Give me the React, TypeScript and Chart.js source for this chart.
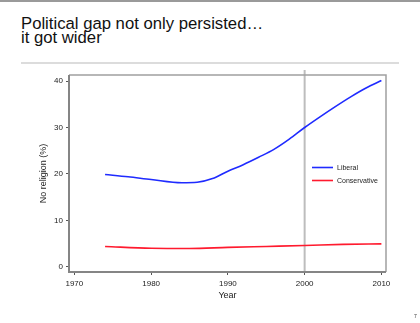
import React, { useEffect, useRef } from "react";
import { Chart, registerables } from "chart.js";

Chart.register(...registerables);

const liberalYears = [1974, 1977, 1980, 1984, 1986, 1988, 1990, 1992, 1994, 1996, 1998, 2000, 2002, 2004, 2006, 2008, 2010];
const liberalValues = [19.9, 19.4, 18.8, 18.1, 18.2, 19.0, 20.6, 22.0, 23.6, 25.3, 27.5, 30.0, 32.3, 34.5, 36.6, 38.5, 40.1];
const conservativeYears = [1974, 1980, 1985, 1990, 1995, 2000, 2005, 2010];
const conservativeValues = [4.4, 4.0, 3.95, 4.2, 4.4, 4.6, 4.85, 4.95];
const xTicks = [1970, 1980, 1990, 2000, 2010];
const yTicks = [0, 10, 20, 30, 40];
const markerYear = 2000;
const seriesLabels = ["Liberal", "Conservative"];
const seriesColors = ["#1f2bff", "#ff1a2e"];

const FONT = "'Liberation Sans', Arial, Helvetica, sans-serif";

const overlayPlugin = {
  id: "overlay",
  beforeDatasetsDraw(chart: any) {
    const { ctx, chartArea, scales } = chart;
    const x = scales.x.getPixelForValue(markerYear);
    ctx.save();
    ctx.strokeStyle = "#bdbdbd";
    ctx.lineWidth = 2;
    ctx.beginPath();
    ctx.moveTo(x, chartArea.top - 5);
    ctx.lineTo(x, chartArea.bottom);
    ctx.stroke();
    ctx.restore();
  },
  afterDatasetsDraw(chart: any) {
    const { ctx, chartArea } = chart;
    ctx.save();
    ctx.strokeStyle = "#a0a0a0";
    ctx.lineWidth = 1.5;
    ctx.beginPath();
    ctx.moveTo(chartArea.left, chartArea.top);
    ctx.lineTo(chartArea.right, chartArea.top);
    ctx.lineTo(chartArea.right, chartArea.bottom);
    ctx.stroke();
    ctx.strokeStyle = "#858585";
    ctx.lineWidth = 2;
    ctx.beginPath();
    ctx.moveTo(chartArea.left, chartArea.top);
    ctx.lineTo(chartArea.left, chartArea.bottom);
    ctx.lineTo(chartArea.right, chartArea.bottom);
    ctx.stroke();
    const lx = 312;
    const ys = [167.5, 180.5];
    chart.data.datasets.forEach((ds: any, i: number) => {
      ctx.strokeStyle = ds.borderColor;
      ctx.lineWidth = 1.6;
      ctx.beginPath();
      ctx.moveTo(lx, ys[i]);
      ctx.lineTo(lx + 21, ys[i]);
      ctx.stroke();
      ctx.fillStyle = "#222";
      ctx.font = `7px ${FONT}`;
      ctx.textBaseline = "middle";
      ctx.textAlign = "left";
      ctx.fillText(ds.label, lx + 25, ys[i] + 0.5);
    });
    ctx.restore();
  },
};

export default function App() {
  const ref = useRef<HTMLCanvasElement>(null);
  useEffect(() => {
    document.body.style.margin = "0";
    const chart = new Chart(ref.current!, {
      type: "line",
      data: {
        datasets: [
          {
            label: seriesLabels[0],
            data: liberalYears.map((y, i) => ({ x: y, y: liberalValues[i] })),
            borderColor: seriesColors[0],
            borderWidth: 1.6,
            pointRadius: 0,
            cubicInterpolationMode: "monotone",
          },
          {
            label: seriesLabels[1],
            data: conservativeYears.map((y, i) => ({ x: y, y: conservativeValues[i] })),
            borderColor: seriesColors[1],
            borderWidth: 1.6,
            pointRadius: 0,
            cubicInterpolationMode: "monotone",
          },
        ],
      },
      options: {
        responsive: false,
        animation: false,
        layout: { padding: { left: 36, top: 75, right: 34, bottom: 22 } },
        plugins: { legend: { display: false }, tooltip: { enabled: false } },
        scales: {
          x: {
            type: "linear",
            min: 1969.3,
            max: 2010.6,
            afterBuildTicks: (s: any) => {
              s.ticks = xTicks.map((v) => ({ value: v }));
            },
            afterFit: (s: any) => {
              s.height = 29;
            },
            grid: { display: true, drawOnChartArea: false, drawTicks: true, tickLength: 3, color: "#555" },
            border: { display: false },
            ticks: {
              color: "#222",
              font: { size: 8, family: FONT },
              padding: 4,
              maxRotation: 0,
              callback: (v: any) => String(v),
            },
            title: { display: true, text: "Year", color: "#222", font: { size: 9, family: FONT }, padding: { top: 0, bottom: 0 } },
          },
          y: {
            type: "linear",
            min: -1.1,
            max: 41.3,
            afterBuildTicks: (s: any) => {
              s.ticks = yTicks.map((v) => ({ value: v }));
            },
            afterFit: (s: any) => {
              s.width = 33;
            },
            grid: { display: true, drawOnChartArea: false, drawTicks: true, tickLength: 3, color: "#555" },
            border: { display: false },
            ticks: { color: "#222", font: { size: 8, family: FONT }, padding: 3, callback: (v: any) => String(v) },
            title: { display: true, text: "No religion (%)", color: "#222", font: { size: 9, family: FONT }, padding: { top: 2, bottom: 0 } },
          },
        },
      },
      plugins: [overlayPlugin],
    } as any);
    return () => chart.destroy();
  }, []);

  return (
    <div style={{ position: "relative", width: 420, height: 323, overflow: "hidden", background: "#fff", fontFamily: FONT }}>
      <div style={{ position: "absolute", left: 0, top: 0, width: 420, height: 1.5, background: "#9a9a9a" }} />
      <div style={{ position: "absolute", left: 21, top: 17, fontSize: 16.7, lineHeight: "14px", color: "#111", whiteSpace: "nowrap" }}>
        Political gap not only persisted…
        <br />
        it got wider
      </div>
      <div style={{ position: "absolute", left: 21, top: 62, width: 378, height: 2, background: "#dcdcdc" }} />
      <canvas ref={ref} width={420} height={323} style={{ position: "absolute", left: 0, top: 0 }} />
      <div style={{ position: "absolute", left: 414, top: 313, fontSize: 5, color: "#333" }}>7</div>
    </div>
  );
}
